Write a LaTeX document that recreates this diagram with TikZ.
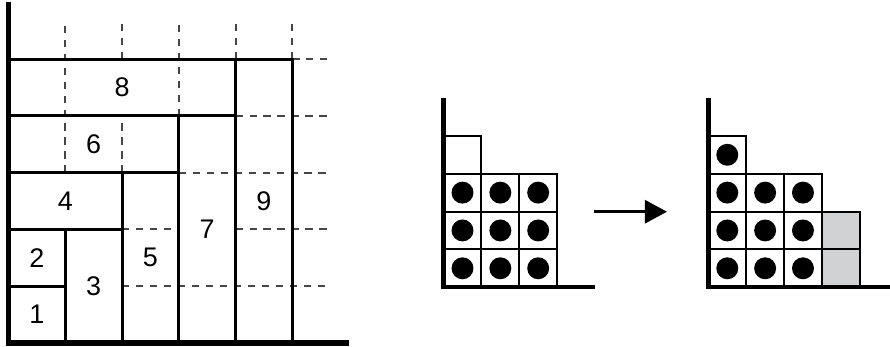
\documentclass[tikz,border=0pt]{standalone}
\usepackage{fontspec}
\setmainfont{Liberation Sans}
\usetikzlibrary{arrows.meta}
\definecolor{cellgray}{RGB}{209,210,212}
\definecolor{gridgray}{RGB}{70,70,70}

\begin{document}
\begin{tikzpicture}[
        block/.style={line width=1.5pt},
        gridline/.style={gridgray,line width=1pt,dash pattern=on 3.6pt off 3.4pt},
        axis/.style={line width=2.8pt},
        cell/.style={line width=1pt},
        num/.style={font=\fontsize{13.5}{16}\selectfont},
    ]
    \useasboundingbox (-0.15,-0.07) rectangle (15.53,6.04);
    % Coordinates
    \coordinate (O) at (0,0);
    \coordinate (P) at (7.665,0.98);
    \coordinate (Q) at (12.33,0.98);
    \coordinate (arrowstart) at (10.32,2.31);
    \coordinate (arrowend) at (11.60,2.31);
    % Dashed grid
    \foreach \x/\a/\b in {1/3/5.67, 2/3/4, 2/5/5.67, 3/4/5.67, 4/5/5.67, 5/5/5.67} {
            \draw[gridline] (\x,\a) -- (\x,\b);
        }
    \foreach \y/\a/\b in {5/5/5.67, 4/4/5.67, 3/3/5.67, 2/2/3, 2/4/5.67, 1/2/5.67} {
            \draw[gridline] (\a,\y) -- (\b,\y);
        }
    % Blocks
    \foreach \a/\b/\c/\d in {0/0/1/1, 0/1/1/2, 1/0/2/2, 0/2/2/3, 2/0/3/3,
            0/3/3/4, 3/0/4/4, 0/4/4/5, 4/0/5/5} {
            \draw[block] (\a,\b) rectangle (\c,\d);
        }
    % Block labels
    \foreach \n/\x/\y in {1/0.5/0.5, 2/0.5/1.5, 3/1.5/1, 4/1/2.5, 5/2.5/1.5,
            6/1.5/3.5, 7/3.5/2, 8/2/4.5, 9/4.5/2.5} {
            \node[num] (n\n) at (\x,\y) {\n};
        }
    \draw[axis] (0,6) -- (O) -- (6,0);
    % Before
    \begin{scope}[shift={(P)},scale=2/3]
        \foreach \i in {0,1,2} {
                \foreach \j in {0,1,2} {
                        \draw[cell] (\i,\j) rectangle +(1,1);
                        \fill (\i+0.5,\j+0.5) circle (0.29);
                    }
            }
        \draw[cell] (0,3) rectangle (1,4);
        \draw[axis,line width=2.2pt] (0,5) -- (0,0) -- (4,0);
    \end{scope}
    % After
    \begin{scope}[shift={(Q)},scale=2/3]
        \foreach \i/\j in {0/0, 0/1, 0/2, 0/3, 1/0, 1/1, 1/2, 2/0, 2/1, 2/2} {
                \draw[cell] (\i,\j) rectangle +(1,1);
                \fill (\i+0.5,\j+0.5) circle (0.29);
            }
        \foreach \j in {0,1} {
                \draw[cell,fill=cellgray] (3,\j) rectangle +(1,1);
            }
        \draw[axis,line width=2.2pt] (0,5) -- (0,0) -- (4.8,0);
    \end{scope}
    \draw[line width=1.3pt,-{Triangle[length=0.39cm,width=0.41cm]}] (arrowstart) -- (arrowend);
\end{tikzpicture}
\end{document}
